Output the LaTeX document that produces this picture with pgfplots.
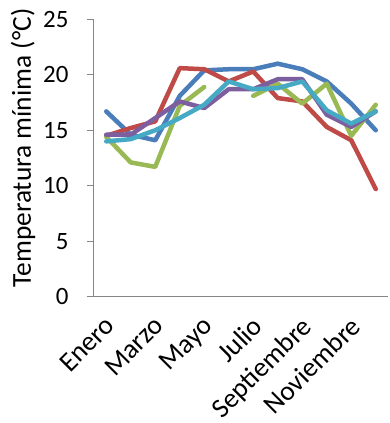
\documentclass[border=0pt]{standalone}
\usepackage{fontspec}
\setmainfont{Carlito}
\usepackage{pgfplots}
\pgfplotsset{compat=1.18}
\usepackage{pgfplotstable}

\definecolor{sblue}{HTML}{4A7EBB}
\definecolor{sred}{HTML}{BE4B48}
\definecolor{sgreen}{HTML}{98B954}
\definecolor{spurple}{HTML}{7D5FA0}
\definecolor{scyan}{HTML}{46AAC5}
\definecolor{axgray}{HTML}{868686}

% monthly minimum temperatures, five stations
\pgfplotstableread{
m  a    b    c    d    e
1  16.7 14.5 14.4 14.6 14.0
2  14.6 15.2 12.1 14.6 14.2
3  14.1 15.8 11.7 16.1 15.0
4  18.1 20.6 17.2 17.6 16.1
5  20.4 20.5 18.9 17.0 17.3
6  20.5 19.4 nan  18.7 19.4
7  20.5 20.3 18.1 18.7 18.7
8  21.0 17.9 19.2 19.6 18.8
9  20.5 17.6 17.4 19.6 19.4
10 19.4 15.3 19.2 16.4 16.8
11 17.4 14.1 14.5 15.3 15.6
12 15.0 9.7  17.3 16.7 16.7
}\datatable

\begin{document}
\begin{tikzpicture}
\begin{axis}[
  scale only axis,
  width=294bp, height=277.4bp,
  xmin=0.5, xmax=12.5,
  ymin=0, ymax=25,
  ytick={0,5,...,25},
  xtick={1,3,5,7,9,11},
  xticklabels={Enero,Marzo,Mayo,Julio,Septiembre,Noviembre},
  minor xtick={0.5,1.5,...,12.5},
  axis lines*=left,
  axis line style={axgray, line width=1bp, -},
  tick align=outside,
  major tick length=7bp,
  minor tick length=7bp,
  tick style={axgray, line width=1bp},
  xtick style={draw=none},
  minor x tick style={axgray, line width=1bp},
  tick label style={font=\fontsize{25}{25}\selectfont, text=black},
  /pgf/number format/assume math mode=true,
  yticklabel style={xshift=-15bp},
  xticklabel style={font=\fontsize{27.5}{27.5}\selectfont, xshift=-2.5bp, yshift=-11bp, rotate=45, anchor=north east, inner sep=0bp},
  ylabel={Temperatura mínima (°C)},
  ylabel style={font=\fontsize{27.5}{27.5}\selectfont, xshift=10bp, yshift=1bp},
  unbounded coords=jump,
  every axis plot/.append style={line width=4.5bp, line join=round, line cap=round, mark=none},
  clip=false,
]
\addplot[sblue]   table[x=m, y=a] {\datatable};
\addplot[sred]    table[x=m, y=b] {\datatable};
\addplot[sgreen]  table[x=m, y=c] {\datatable};
\addplot[spurple] table[x=m, y=d] {\datatable};
\addplot[scyan]   table[x=m, y=e] {\datatable};
\end{axis}
\pgfresetboundingbox
\path[use as bounding box] ([xshift=-94bp,yshift=-126.3bp]current axis.south west) rectangle ++(390bp,423bp);
\end{tikzpicture}
\end{document}
